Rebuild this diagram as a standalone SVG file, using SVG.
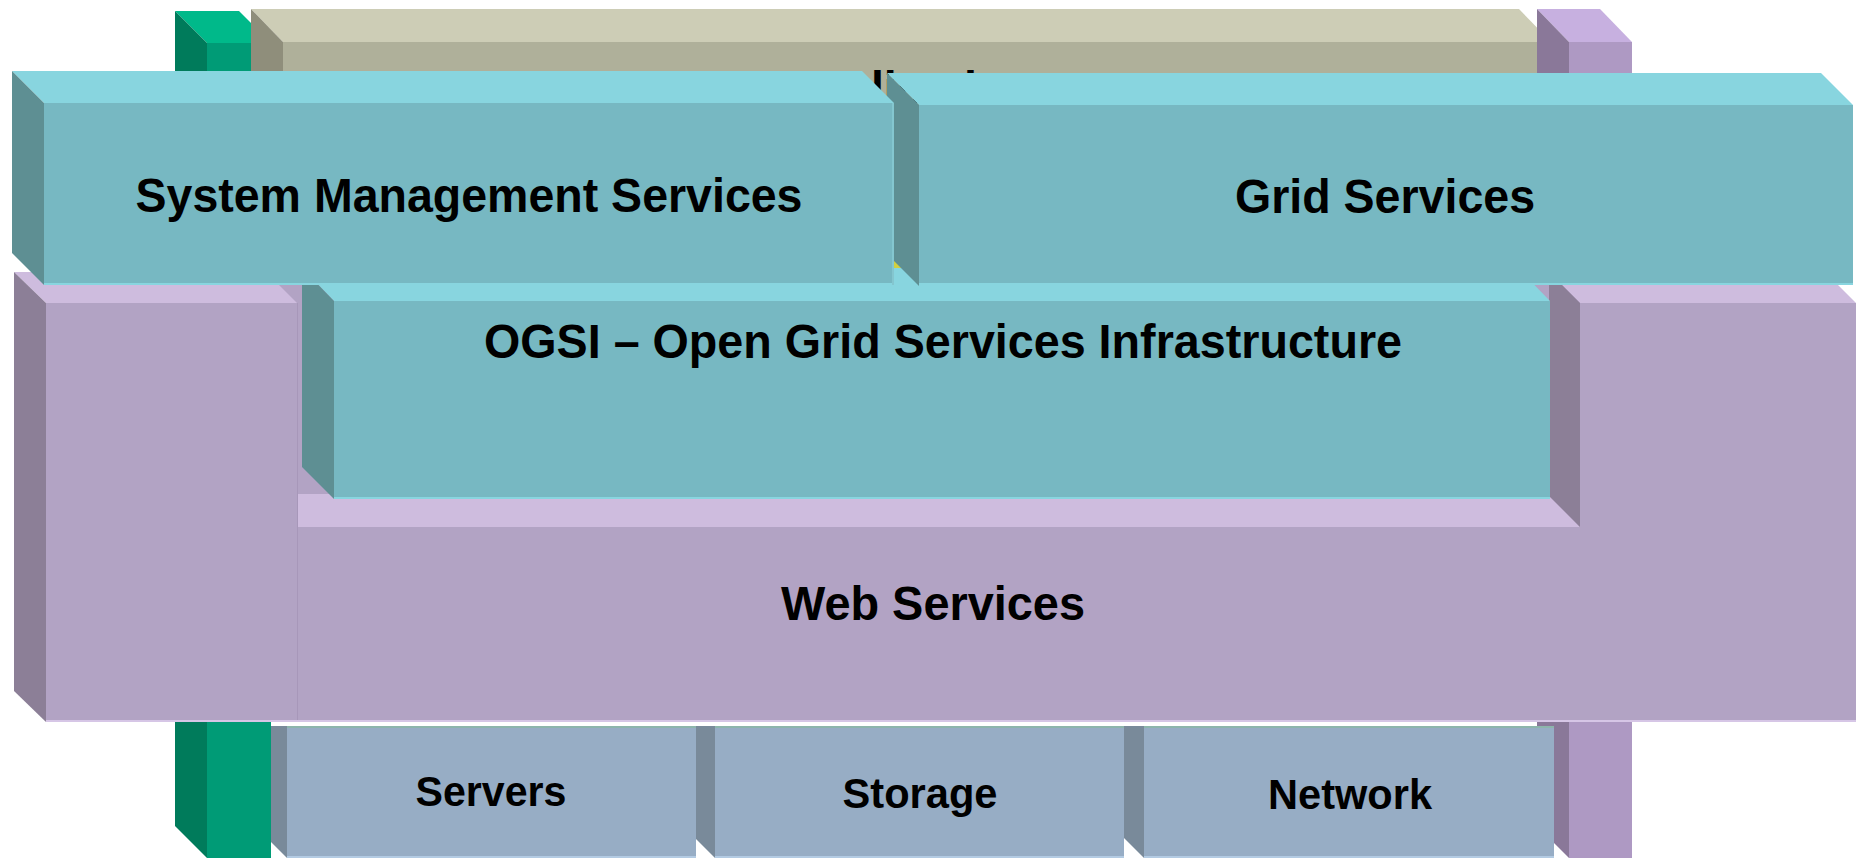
<svg xmlns="http://www.w3.org/2000/svg" width="1856" height="858" viewBox="0 0 1856 858">
<style>
.lbl{font-family:"Liberation Sans",Arial,Helvetica,sans-serif;font-weight:bold;fill:#000;text-anchor:middle}
.big{font-size:48px}
.small{font-size:42px}
.cy-t{fill:#88D5DF}.cy-f{fill:#77B8C2}.cy-s{fill:#5E8F93}
.pu-t{fill:#CEBCDE}.pu-f{fill:#B2A3C4}.pu-s{fill:#8C7F97}
.gn-t{fill:#00B98A}.gn-f{fill:#009B76}.gn-s{fill:#007B5B}
.tn-t{fill:#CDCDB6}.tn-f{fill:#AFB09A}.tn-s{fill:#8F8E7B}
.vi-t{fill:#C7B0E0}.vi-f{fill:#AE99C3}.vi-s{fill:#8A7899}
.bl-f{fill:#97ADC5}.bl-s{fill:#798A9A}
.cy-edge{stroke:#88D5DF;stroke-width:2}
.pu-edge{stroke:#D6C6E6;stroke-width:2}
.pu-seam{stroke:#A797B9;stroke-width:1}
.bl-top{stroke:#8DB5AC;stroke-width:2}
.bl-bot{stroke:#B3CBE3;stroke-width:2}
</style>

<!-- back layer: vertical bars and the applications slab -->
<g id="infrastructure-bar">
  <polygon class="gn-t" points="175,11 239,11 271,43 207,43"/>
  <polygon class="gn-s" points="175,11 207,43 207,858 175,826"/>
  <rect class="gn-f" x="207" y="43" width="64" height="815"/>
</g>

<g id="applications">
  <polygon class="tn-t" points="251,9 1519,9 1551,42 283,42"/>
  <polygon class="tn-s" points="251,9 283,42 283,300 251,268"/>
  <rect class="tn-f" x="283" y="42" width="1268" height="258"/>
  <text class="lbl big" x="920" y="105" textLength="279" lengthAdjust="spacingAndGlyphs">Applications</text>
  <polygon points="887,252 910,268 887,268" fill="#D2D040"/>
</g>

<g id="security-bar">
  <polygon class="vi-t" points="1537,9 1600,9 1632,42 1569,42"/>
  <polygon class="vi-s" points="1537,9 1569,42 1569,858 1537,826"/>
  <rect class="vi-f" x="1569" y="42" width="63" height="816"/>
</g>

<!-- resource row -->
<g id="servers">
  <polygon class="bl-s" points="271,726 287,726 287,858 271,842"/>
  <rect class="bl-f" x="287" y="726" width="409" height="132"/>
  <line class="bl-top" x1="287" y1="727" x2="696" y2="727"/>
  <line class="bl-bot" x1="287" y1="857" x2="696" y2="857"/>
  <text class="lbl small" x="491" y="806" textLength="151" lengthAdjust="spacingAndGlyphs">Servers</text>
</g>

<g id="storage">
  <polygon class="bl-s" points="696,726 715,726 715,858 696,839"/>
  <rect class="bl-f" x="715" y="726" width="409" height="132"/>
  <line class="bl-top" x1="715" y1="727" x2="1124" y2="727"/>
  <line class="bl-bot" x1="715" y1="857" x2="1124" y2="857"/>
  <text class="lbl small" x="920" y="808" textLength="155" lengthAdjust="spacingAndGlyphs">Storage</text>
</g>

<g id="network">
  <polygon class="bl-s" points="1124,726 1144,726 1144,858 1124,838"/>
  <rect class="bl-f" x="1144" y="726" width="410" height="132"/>
  <line class="bl-top" x1="1144" y1="727" x2="1554" y2="727"/>
  <line class="bl-bot" x1="1144" y1="857" x2="1554" y2="857"/>
  <text class="lbl small" x="1350" y="809" textLength="164" lengthAdjust="spacingAndGlyphs">Network</text>
</g>

<!-- web services: U-shaped block with a notch holding OGSI -->
<g id="web-services">
  <rect class="pu-f" x="266" y="272" width="1314" height="255"/>
  <polygon class="pu-t" points="14,272 266,272 297,303 46,303"/>
  <polygon class="pu-s" points="14,272 46,303 46,722 14,691"/>
  <rect class="pu-f" x="46" y="303" width="251" height="419"/>
  <polygon class="pu-t" points="297,494 1549,494 1580,527 297,527"/>
  <polygon class="pu-t" points="1549,272 1825,272 1856,303 1580,303"/>
  <polygon class="pu-s" points="1549,272 1580,303 1580,527 1549,496"/>
  <polygon class="pu-f" points="297,527 1580,527 1580,303 1856,303 1856,722 297,722"/>
  <line class="pu-seam" x1="297.5" y1="303" x2="297.5" y2="722"/>
  <line class="pu-edge" x1="46" y1="721" x2="1856" y2="721"/>
  <text class="lbl big" x="933" y="620" textLength="304" lengthAdjust="spacingAndGlyphs">Web Services</text>
</g>

<g id="ogsi">
  <polygon class="cy-t" points="302,268 1518,268 1550,301 334,301"/>
  <polygon class="cy-s" points="302,268 334,301 334,499 302,467"/>
  <rect class="cy-f" x="334" y="301" width="1216" height="198"/>
  <line class="cy-edge" x1="334" y1="498" x2="1550" y2="498"/>
  <text class="lbl big" x="943" y="358" textLength="918" lengthAdjust="spacingAndGlyphs">OGSI – Open Grid Services Infrastructure</text>
</g>

<g id="grid-services">
  <polygon class="cy-t" points="887,73 1821,73 1853,105 919,105"/>
  <polygon class="cy-s" points="887,73 919,105 919,286 887,254"/>
  <rect class="cy-f" x="919" y="105" width="934" height="180"/>
  <line class="cy-edge" x1="919" y1="284" x2="1853" y2="284"/>
  <text class="lbl big" x="1385" y="213" textLength="300" lengthAdjust="spacingAndGlyphs">Grid Services</text>
</g>

<g id="system-management-services">
  <polygon class="cy-t" points="12,71 862,71 894,103 44,103"/>
  <polygon class="cy-s" points="12,71 44,103 44,285 12,253"/>
  <rect class="cy-f" x="44" y="103" width="850" height="182"/>
  <line class="cy-edge" x1="44" y1="284" x2="894" y2="284"/>
  <line x1="893" y1="103" x2="893" y2="285" stroke="#84C6CF" stroke-width="2"/>
  <text class="lbl big" x="469" y="212" textLength="667" lengthAdjust="spacingAndGlyphs">System Management Services</text>
</g>
</svg>
